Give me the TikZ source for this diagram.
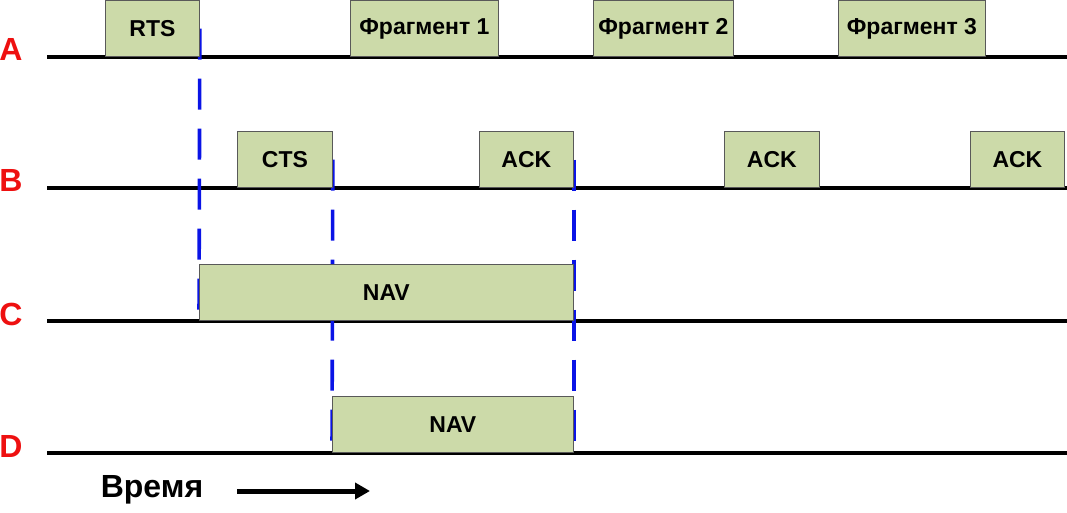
\documentclass[tikz,border=0pt]{standalone}
\usepackage{fontspec}
\setmainfont{Liberation Sans}
\usetikzlibrary{arrows.meta}
\definecolor{navgreen}{HTML}{CCDAA9}
\definecolor{labelred}{HTML}{EE1010}
\definecolor{navblue}{HTML}{0A14E6}
\pgfdeclarelayer{back}
\pgfsetlayers{back,main}

\begin{document}
\begin{tikzpicture}[x=1pt, y=-1pt,
		frame/.style={draw=black!65, line width=0.8pt, fill=navgreen, minimum height=56pt, inner sep=0pt, anchor=south west, font=\fontsize{23}{26}\selectfont\bfseries},
		station/.style={text=labelred, font=\fontsize{32}{36}\selectfont\bfseries, anchor=base},
		medium/.style={line width=3.6pt},
		navline/.style={navblue, line width=3.6pt, dash pattern=on 31pt off 19pt}]
			%%%%% START %%%%%
			\useasboundingbox (0,0) rectangle (1067,513);
			
			\node[station] (A) at (11,61) {A};
			\node[station] (B) at (11,192) {B};
			\node[station] (C) at (11,325) {C};
			\node[station] (D) at (11,457) {D};
			
			\node[frame, minimum width=94pt] (rts) at (105,57) {RTS};
			\node[frame, minimum width=148pt] (frag1) at (350,57) {Фрагмент 1};
			\node[frame, minimum width=140pt] (frag2) at (593,57) {Фрагмент 2};
			\node[frame, minimum width=147pt] (frag3) at (838,57) {Фрагмент 3};
			
			\node[frame, minimum width=95pt] (cts) at (237,188) {CTS};
			\node[frame, minimum width=94pt] (ack1) at (479,188) {ACK};
			\node[frame, minimum width=95pt] (ack2) at (724,188) {ACK};
			\node[frame, minimum width=94pt] (ack3) at (970,188) {ACK};
			
			\node[frame, minimum width=374pt] (navc) at (199,321) {NAV};
			\node[frame, minimum width=241pt] (navd) at (332,453) {NAV};
			
			\begin{pgfonlayer}{back}
				\draw[medium] (47,57) -- (1067,57);
				\draw[medium] (47,188) -- (1067,188);
				\draw[medium] (47,321) -- (1067,321);
				\draw[medium] (47,453) -- (1067,453);
				
				\draw[navline] (rts.east) -- (navc.south west);
				\draw[navline] (cts.east) -- (navd.south west);
				\draw[navline] (ack1.east) -- (navd.south east);
			\end{pgfonlayer}
			
			\node[font=\fontsize{32}{36}\selectfont\bfseries, anchor=base] (time) at (152,497) {Время};
			\coordinate (t0) at (237,491);
			\coordinate (t1) at (370,491);
			\draw[line width=5pt, -{Triangle[length=15pt, width=16pt]}] (t0) -- (t1);
			
			%%%%% END %%%%%
		\end{tikzpicture}
\end{document}
